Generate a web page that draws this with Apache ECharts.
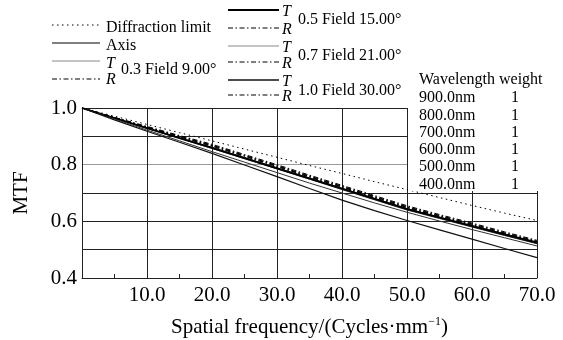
<!DOCTYPE html>
<html>
<head>
<meta charset="utf-8">
<script src="https://cdn.jsdelivr.net/npm/echarts@6/dist/echarts.min.js"></script>
<style>
  html, body { margin: 0; padding: 0; background: #fff; }
  #chart { width: 563px; height: 340px; }
</style>
</head>
<body>
<div id="chart"></div>
<script>
// spatial frequency samples (cycles/mm)
var freq = [0, 5, 10, 15, 20, 25, 30, 35, 40, 45, 50, 55, 60, 65, 70]
// MTF values
var diffLimit = [1, 0.971, 0.942, 0.913, 0.884, 0.855, 0.826, 0.797, 0.769, 0.740, 0.712, 0.684, 0.656, 0.629, 0.603]
var axisMTF = [1, 0.965, 0.930, 0.895, 0.861, 0.825, 0.789, 0.753, 0.717, 0.681, 0.645, 0.615, 0.585, 0.556, 0.527]
var t03 = [1, 0.964, 0.928, 0.893, 0.857, 0.821, 0.785, 0.749, 0.712, 0.676, 0.640, 0.610, 0.580, 0.550, 0.521]
var r03 = [1, 0.967, 0.935, 0.903, 0.872, 0.836, 0.800, 0.763, 0.727, 0.691, 0.655, 0.624, 0.594, 0.563, 0.533]
var t05 = [1, 0.964, 0.929, 0.894, 0.859, 0.823, 0.787, 0.751, 0.715, 0.679, 0.643, 0.613, 0.583, 0.553, 0.524]
var r05 = [1, 0.966, 0.933, 0.901, 0.869, 0.833, 0.797, 0.760, 0.724, 0.688, 0.652, 0.621, 0.591, 0.560, 0.530]
var t07 = [1, 0.962, 0.922, 0.884, 0.846, 0.809, 0.772, 0.735, 0.700, 0.665, 0.632, 0.601, 0.571, 0.542, 0.513]
var r07 = [1, 0.966, 0.932, 0.899, 0.867, 0.831, 0.795, 0.758, 0.722, 0.686, 0.650, 0.619, 0.589, 0.558, 0.528]
var t10 = [1, 0.958, 0.918, 0.879, 0.840, 0.799, 0.758, 0.716, 0.675, 0.638, 0.603, 0.570, 0.537, 0.504, 0.472]
var r10 = [1, 0.965, 0.931, 0.898, 0.865, 0.829, 0.793, 0.756, 0.720, 0.684, 0.648, 0.617, 0.586, 0.555, 0.525]
// wavelength table
var wavelengths = ['900.0nm', '800.0nm', '700.0nm', '600.0nm', '500.0nm', '400.0nm']
var weights = [1, 1, 1, 1, 1, 1]

var SERIF = '"Liberation Serif", "Times New Roman", serif'
var DOT = [1.5, 3.5]
var DASHDOT = [5, 2.5, 1.5, 2.5]

function pairs (ys) {
  return freq.map(function (f, i) { return [f, ys[i]] })
}

function curve (name, ys, color, width, dash) {
  return {
    name: name,
    type: 'line',
    data: pairs(ys),
    showSymbol: false,
    symbol: 'none',
    lineStyle: { color: color, width: width, type: dash || 'solid' },
    z: 3
  }
}

// legend drawn by hand (T/R pairs share one label)
function legLine (x1, x2, y, color, width, dash) {
  return {
    type: 'line',
    shape: { x1: x1, y1: y, x2: x2, y2: y },
    style: { stroke: color, lineWidth: width, lineDash: dash || null },
    z: 100
  }
}
function legText (x, y, text, italic, align) {
  return {
    type: 'text',
    x: x,
    y: y,
    style: {
      text: text,
      font: (italic ? 'italic ' : '') + '16px ' + SERIF,
      fill: '#000',
      align: align || 'left',
      verticalAlign: 'middle',
      textAlign: align || 'left',
      textVerticalAlign: 'middle'
    },
    z: 101
  }
}

var graphics = [
  // white box behind the wavelength table
  { type: 'rect', shape: { x: 408, y: 100, width: 150, height: 91 }, style: { fill: '#fff' }, z: 90 },
  legText(419, 80, 'Wavelength weight')
]
wavelengths.forEach(function (w, i) {
  var y = 98 + i * 17.3
  graphics.push(legText(419, y, w))
  graphics.push(legText(515, y, String(weights[i]), false, 'center'))
})

// left legend column
graphics.push(legLine(52, 100, 25, '#000', 1, DOT))
graphics.push(legText(106, 28, 'Diffraction limit'))
graphics.push(legLine(52, 100, 43, '#000', 1))
graphics.push(legText(106, 46, 'Axis'))
graphics.push(legLine(52, 100, 61, '#888', 1))
graphics.push(legText(106, 64, 'T', true))
graphics.push(legLine(52, 100, 79, '#000', 1, DASHDOT))
graphics.push(legText(106, 80, 'R', true))
graphics.push(legText(121, 70, '0.3 Field 9.00°'))

// right legend column
var rightRows = [
  { tY: 10, rY: 28, tColor: '#000', tWidth: 2, label: '0.5 Field 15.00°', labelY: 20 },
  { tY: 46, rY: 62, tColor: '#888', tWidth: 1, label: '0.7 Field 21.00°', labelY: 56 },
  { tY: 80, rY: 95, tColor: '#111', tWidth: 1.5, label: '1.0 Field 30.00°', labelY: 91 }
]
rightRows.forEach(function (r) {
  graphics.push(legLine(228, 279, r.tY, r.tColor, r.tWidth))
  graphics.push(legText(282, r.tY + 2, 'T', true))
  graphics.push(legLine(228, 279, r.rY, '#000', 1, DASHDOT))
  graphics.push(legText(282, r.rY + 2, 'R', true))
  graphics.push(legText(298, r.labelY, r.label))
})

var myChart = echarts.init(document.getElementById('chart'))
myChart.setOption({
  animation: false,
  backgroundColor: '#fff',
  textStyle: { fontFamily: SERIF },
  grid: { left: 82, right: 26, top: 108, bottom: 62, containLabel: false },
  xAxis: {
    type: 'value',
    min: 0,
    max: 70,
    interval: 10,
    name: 'Spatial frequency/(Cycles·mm{sup|−1})',
    nameLocation: 'middle',
    nameGap: 38,
    nameTextStyle: {
      color: '#000',
      fontSize: 21,
      fontFamily: SERIF,
      rich: { sup: { fontSize: 12, fontFamily: SERIF, color: '#000', verticalAlign: 'top', padding: [0, 0, 10, 0] } }
    },
    axisLine: { show: true, lineStyle: { color: '#222', width: 1 } },
    axisTick: { show: false, inside: true },
    minorTick: { show: true, splitNumber: 2, length: 4, lineStyle: { color: '#222', width: 1 } },
    axisLabel: {
      color: '#000',
      fontSize: 21,
      fontFamily: SERIF,
      margin: 7,
      formatter: function (v) { return v === 0 ? '' : v.toFixed(1) }
    },
    splitLine: { show: true, lineStyle: { color: '#222', width: 1 } }
  },
  yAxis: {
    type: 'value',
    min: 0.4,
    max: 1.0,
    interval: 0.1,
    name: 'MTF',
    nameLocation: 'middle',
    nameGap: 50,
    nameTextStyle: { color: '#000', fontSize: 21, fontFamily: SERIF },
    axisLine: { show: true, lineStyle: { color: '#222', width: 1 } },
    axisTick: { show: false },
    axisLabel: {
      color: '#000',
      fontSize: 21,
      fontFamily: SERIF,
      margin: 5,
      formatter: function (v) {
        var k = Math.round(v * 10)
        return k % 2 === 0 ? (k / 10).toFixed(1) : ''
      }
    },
    splitLine: { show: true, lineStyle: { color: ['#222', '#222', '#222', '#222', '#999', '#222', '#222'], width: 1 } }
  },
  graphic: graphics,
  series: [
    curve('Diffraction limit', diffLimit, '#000', 1, DOT),
    curve('Axis', axisMTF, '#000', 1),
    curve('T 0.3', t03, '#333', 1),
    curve('R 0.3', r03, '#000', 1, DASHDOT),
    curve('T 0.5', t05, '#000', 1.8),
    curve('R 0.5', r05, '#000', 1, DASHDOT),
    curve('T 0.7', t07, '#333', 1),
    curve('R 0.7', r07, '#000', 1, DASHDOT),
    curve('T 1.0', t10, '#111', 1.2),
    curve('R 1.0', r10, '#000', 1, DASHDOT)
  ]
})
</script>
</body>
</html>
